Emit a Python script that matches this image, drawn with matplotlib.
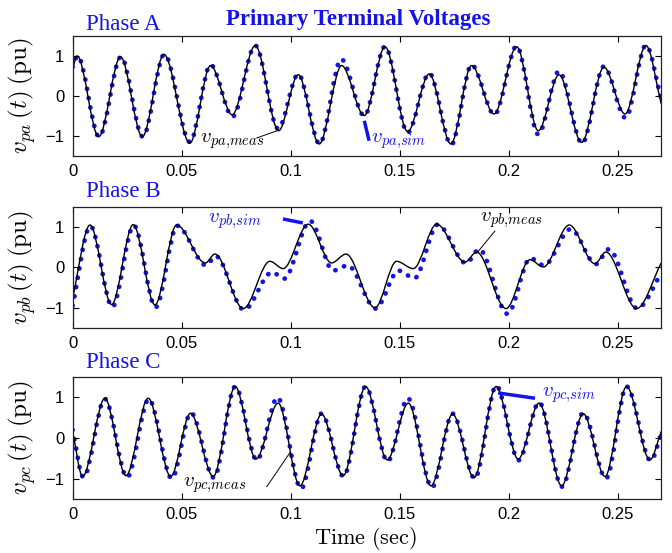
import matplotlib
matplotlib.use("Agg")
import matplotlib.pyplot as plt
from matplotlib.path import Path
from matplotlib.patches import PathPatch

plt.rcParams['mathtext.fontset'] = 'cm'
plt.rcParams['font.family'] = ['Liberation Sans', 'DejaVu Sans']

BLUE = '#1414e6'

# turning points of each trace (time in s, voltage in pu)
pa_meas_t = [0.0, 0.0021, 0.0120, 0.0220, 0.0320, 0.0419, 0.0538, 0.0633, 0.0732, 0.0838,
             0.0945, 0.1035, 0.1131, 0.1234, 0.1338, 0.1433, 0.1537, 0.1636, 0.1735, 0.1830,
             0.1933, 0.2037, 0.2136, 0.2231, 0.2335, 0.2437, 0.2534, 0.2630, 0.2700]
pa_meas_v = [0.68, 1.00, -1.02, 0.98, -1.02, 1.04, -1.18, 0.76, -0.47, 1.26,
             -0.87, 0.53, -1.20, 0.76, -0.49, 1.23, -0.89, 0.55, -1.20, 0.76,
             -0.45, 1.23, -0.87, 0.53, -1.16, 0.72, -0.45, 1.26, -0.20]
pa_sim_t = [0.0, 0.0023, 0.0122, 0.0222, 0.0322, 0.0421, 0.0538, 0.0633, 0.0734, 0.0838,
            0.0943, 0.1035, 0.1133, 0.1232, 0.1338, 0.1433, 0.1537, 0.1636, 0.1737, 0.1830,
            0.1935, 0.2037, 0.2136, 0.2231, 0.2337, 0.2437, 0.2536, 0.2630, 0.2700]
pa_sim_v = [0.72, 1.00, -1.02, 0.98, -1.02, 1.04, -1.15, 0.78, -0.52, 1.26,
            -0.82, 0.55, -1.20, 0.92, -0.50, 1.24, -0.92, 0.57, -1.22, 0.78,
            -0.47, 1.25, -0.96, 0.62, -1.19, 0.74, -0.55, 1.27, -0.08]

pb_meas_t = [0.0, 0.0080, 0.0179, 0.0278, 0.0378, 0.0477, 0.0609, 0.0653, 0.0783, 0.0905,
             0.0966, 0.1081, 0.1188, 0.1254, 0.1387, 0.1486, 0.1563, 0.1670, 0.1800, 0.1853,
             0.1988, 0.2098, 0.2159, 0.2278, 0.2396, 0.2446, 0.2587, 0.2700]
pb_meas_v = [-0.76, 1.05, -0.92, 1.06, -0.93, 1.05, 0.11, 0.33, -1.02, 0.15,
             -0.03, 1.07, 0.11, 0.33, -1.00, 0.15, -0.03, 1.07, 0.13, 0.38,
             -1.02, 0.19, 0.01, 1.05, 0.09, 0.38, -1.02, 0.11]
pb_sim_t = [0.0, 0.0082, 0.0182, 0.0281, 0.0381, 0.0480, 0.0612, 0.0656, 0.0786, 0.0915,
            0.0970, 0.1090, 0.1195, 0.1262, 0.1390, 0.1495, 0.1568, 0.1675, 0.1805, 0.1865,
            0.1995, 0.2100, 0.2162, 0.2285, 0.2400, 0.2460, 0.2590, 0.2700]
pb_sim_v = [-0.95, 1.02, -0.98, 1.04, -0.99, 1.03, 0.05, 0.28, -1.05, -0.12,
            -0.28, 1.15, -0.08, 0.05, -1.02, -0.08, -0.27, 1.06, 0.10, 0.45,
            -1.15, 0.23, 0.05, 0.95, 0.08, 0.45, -1.02, -0.15]

pc_meas_t = [0.0, 0.0046, 0.0148, 0.0245, 0.0347, 0.0450, 0.0541, 0.0645, 0.0746, 0.0841,
             0.0943, 0.1043, 0.1142, 0.1241, 0.1344, 0.1443, 0.1540, 0.1644, 0.1743, 0.1841,
             0.1943, 0.2044, 0.2140, 0.2243, 0.2342, 0.2442, 0.2541, 0.2648, 0.2700]
pc_meas_v = [0.16, -0.95, 0.98, -0.93, 0.98, -0.95, 0.61, -0.95, 1.27, -0.52,
             0.86, -1.18, 0.59, -0.93, 1.27, -0.54, 0.86, -1.18, 0.59, -0.98,
             1.27, -0.52, 0.86, -1.18, 0.60, -0.95, 1.27, -0.54, 0.16]
pc_sim_t = [0.0, 0.0050, 0.0148, 0.0250, 0.0350, 0.0455, 0.0543, 0.0648, 0.0746, 0.0845,
            0.0940, 0.1048, 0.1142, 0.1243, 0.1344, 0.1445, 0.1538, 0.1648, 0.1743, 0.1845,
            0.1943, 0.2046, 0.2140, 0.2245, 0.2342, 0.2447, 0.2541, 0.2652, 0.2700]
pc_sim_v = [0.20, -0.97, 0.96, -0.97, 0.96, -1.00, 0.62, -0.98, 1.27, -0.55,
            1.00, -1.25, 0.60, -0.95, 1.27, -0.58, 0.98, -1.22, 0.60, -1.00,
            1.29, -0.55, 0.88, -1.20, 0.62, -1.00, 1.27, -0.56, 0.10]

phase_names = ['Phase A', 'Phase B', 'Phase C']
ylabels = [r'$v_{pa}\,(t)\;\mathrm{(pu)}$', r'$v_{pb}\,(t)\;\mathrm{(pu)}$', r'$v_{pc}\,(t)\;\mathrm{(pu)}$']
xticks = [0, 0.05, 0.1, 0.15, 0.2, 0.25]
xtick_labels = ['0', '0.05', '0.1', '0.15', '0.2', '0.25']
yticks = [-1, 0, 1]

# label text position, leader start, leader end (data coords)
meas_labels = [(r'$v_{pa{,}meas}$', (0.0584, -1.12), (0.0845, -1.05), (0.0943, -0.86)),
               (r'$v_{pb{,}meas}$', (0.1868, 1.17), (0.1937, 0.90), (0.1858, 0.38)),
               (r'$v_{pc{,}meas}$', (0.0506, -1.16), (0.0891, -1.20), (0.0997, -0.36))]
sim_labels = [(r'$v_{pa{,}sim}$', (0.1368, -1.12), (0.1338, -0.62), (0.1360, -1.12)),
              (r'$v_{pb{,}sim}$', (0.0621, 1.14), (0.0965, 1.20), (0.1056, 1.10)),
              (r'$v_{pc{,}sim}$', (0.2152, 1.07), (0.1952, 1.11), (0.2121, 0.98))]


def wave_path(t, v):
    # smooth curve through the turning points: flat tangent at each peak/trough
    verts = [(t[0], v[0])]
    codes = [Path.MOVETO]
    n = len(t)
    for i in range(n - 1):
        dt = (t[i + 1] - t[i]) / 3
        y0 = v[i] if i > 0 else v[i] + (v[i + 1] - v[i]) / 3
        y1 = v[i + 1] if i + 1 < n - 1 else v[i + 1] - (v[i + 1] - v[i]) / 3
        verts += [(t[i] + dt, y0), (t[i + 1] - dt, y1), (t[i + 1], v[i + 1])]
        codes += [Path.CURVE4] * 3
    return Path(verts, codes)


fig = plt.figure(figsize=(6.72, 5.53), dpi=100)
boxes = [[0.108, 0.718, 0.876, 0.217],
         [0.108, 0.407, 0.876, 0.219],
         [0.108, 0.098, 0.876, 0.220]]
series = [(pa_meas_t, pa_meas_v, pa_sim_t, pa_sim_v),
          (pb_meas_t, pb_meas_v, pb_sim_t, pb_sim_v),
          (pc_meas_t, pc_meas_v, pc_sim_t, pc_sim_v)]
phase_y = [0.9458, 0.644, 0.3345]

for k in range(3):
    ax = fig.add_axes(boxes[k])
    mt, mv, st, sv = series[k]
    ax.add_patch(PathPatch(wave_path(st, sv), fill=False, edgecolor=BLUE, lw=3.4,
                           linestyle=(0, (0.05, 1.95)), capstyle='round'))
    ax.add_patch(PathPatch(wave_path(mt, mv), fill=False, edgecolor='black', lw=1.0))

    txt, pos, a, b = meas_labels[k]
    ax.plot([a[0], b[0]], [a[1], b[1]], color='black', lw=0.7)
    ax.text(pos[0], pos[1], txt, fontsize=15, va='center', ha='left', color='black')
    txt, pos, a, b = sim_labels[k]
    ax.plot([a[0], b[0]], [a[1], b[1]], color=BLUE, lw=2.5, solid_capstyle='butt')
    ax.text(pos[0], pos[1], txt, fontsize=15, va='center', ha='left', color=BLUE)

    ax.set_xlim(0, 0.27)
    ax.set_ylim(-1.5, 1.5)
    ax.set_xticks(xticks)
    ax.set_xticklabels(xtick_labels)
    ax.set_yticks(yticks)
    ax.tick_params(direction='in', length=4, width=0.8, top=True, right=True,
                   labelsize=12, pad=6)
    for s in ax.spines.values():
        s.set_linewidth(0.9)
        s.set_color('#222222')
    ax.set_ylabel(ylabels[k], fontsize=18)
    ax.yaxis.set_label_coords(-0.058, 0.5)

    fig.text(0.128, phase_y[k], phase_names[k], family='Liberation Serif',
             fontsize=16.5, color=BLUE, va='baseline')

fig.text(0.533, 0.9548, 'Primary Terminal Voltages', family='Liberation Serif',
         fontsize=16.5, weight='bold', color=BLUE, ha='center', va='baseline')
fig.text(0.543, 0.016, r'$\mathrm{Time\ (sec)}$', fontsize=16, ha='center', va='baseline')

fig.savefig('out.png', dpi=100)
